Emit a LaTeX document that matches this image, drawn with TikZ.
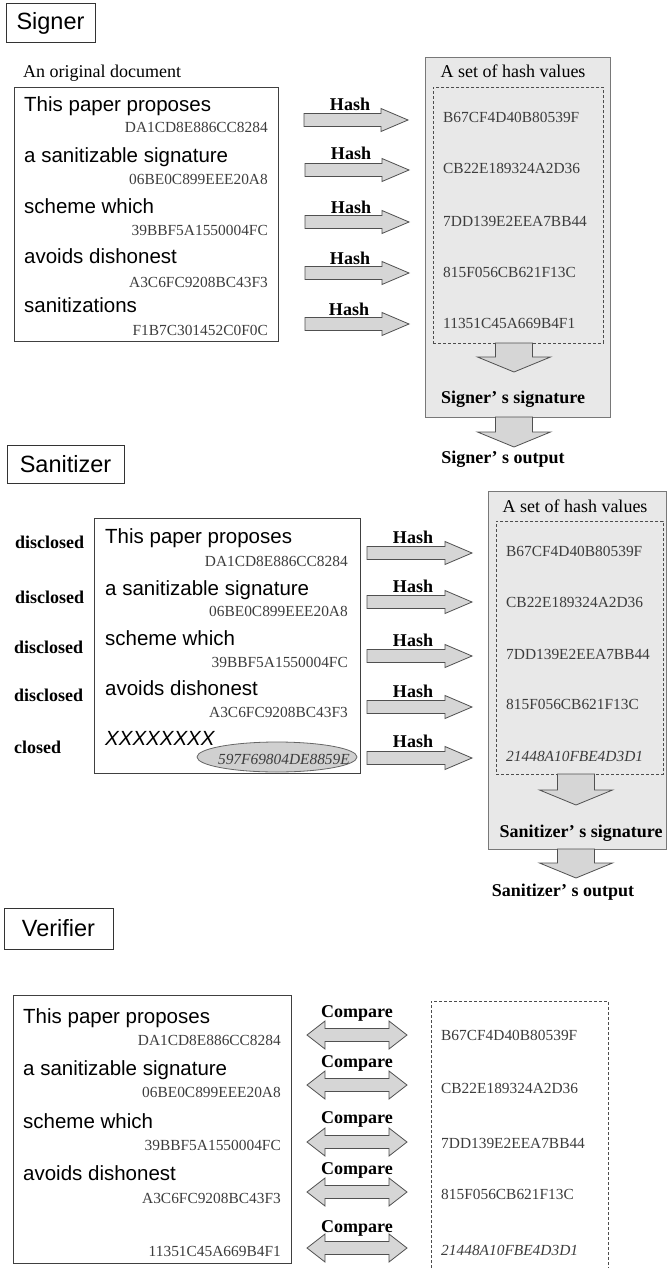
\documentclass[tikz,border=0pt]{standalone}
\usepackage{fontspec}
\setmainfont{Liberation Serif}
\newfontfamily\arialfont{Liberation Sans}
\usepackage{tikz}
\usetikzlibrary{shapes.geometric, arrows.meta, positioning, calc}
\definecolor{boxgray}{RGB}{232,232,232}
\definecolor{boxline}{RGB}{120,120,120}
\definecolor{arrowfill}{RGB}{214,214,214}
\definecolor{arrowline}{RGB}{80,80,80}
\definecolor{hexgray}{RGB}{60,60,60}
\definecolor{ovalfill}{RGB}{208,208,208}
\tikzset{
  rolebox/.style={rectangle, draw=black!80, line width=1pt, inner sep=0pt,
    font=\arialfont\fontsize{23.5}{26}\selectfont},
  docbox/.style={rectangle, draw=black!75, line width=1pt},
  setbox/.style={rectangle, draw=boxline, fill=boxgray, line width=1pt},
  dashbox/.style={rectangle, draw=black!70, dash pattern=on 3pt off 2pt, line width=0.8pt},
  oval/.style={ellipse, draw=black!60, fill=ovalfill, line width=0.8pt},
  linetext/.style={anchor=base west, inner sep=0pt,
    font=\arialfont\fontsize{20.5}{24}\selectfont},
  hextext/.style={anchor=base east, inner sep=0pt, text=hexgray,
    font=\fontsize{15.4}{18}\selectfont},
  hashval/.style={anchor=base west, inner sep=0pt, text=hexgray,
    font=\fontsize{15.4}{18}\selectfont},
  boldlabel/.style={anchor=base, inner sep=0pt, font=\bfseries\fontsize{18}{21}\selectfont},
  plainlabel/.style={anchor=base, inner sep=0pt, font=\fontsize{18}{21}\selectfont},
  blockarrow/.style={draw=arrowline, fill=arrowfill, line width=0.8pt, line join=miter}
}
% block arrows between two named coordinates
\newcommand{\hasharrow}[2]{%
  \draw[blockarrow] let \p1=(#1), \p2=(#2) in
    (\x1,\y1+6.5pt) -- (\x2-27pt,\y1+6.5pt) -- (\x2-27pt,\y1+11.5pt)
    -- (\x2,\y1) -- (\x2-27pt,\y1-11.5pt) -- (\x2-27pt,\y1-6.5pt)
    -- (\x1,\y1-6.5pt) -- cycle;}
\newcommand{\sigarrow}[2]{%
  \draw[blockarrow] let \p1=(#1), \p2=(#2) in
    (\x1-18.5pt,\y1) -- (\x1+18.5pt,\y1) -- (\x1+18.5pt,\y2+15pt)
    -- (\x1+36.5pt,\y2+15pt) -- (\x1,\y2) -- (\x1-36.5pt,\y2+15pt)
    -- (\x1-18.5pt,\y2+15pt) -- cycle;}
\newcommand{\cmparrow}[2]{%
  \draw[blockarrow] let \p1=(#1), \p2=(#2) in
    (\x1,\y1) -- (\x1+18pt,\y1+14pt) -- (\x1+18pt,\y1+6.5pt)
    -- (\x2-18pt,\y1+6.5pt) -- (\x2-18pt,\y1+14pt) -- (\x2,\y1)
    -- (\x2-18pt,\y1-14pt) -- (\x2-18pt,\y1-6.5pt) -- (\x1+18pt,\y1-6.5pt)
    -- (\x1+18pt,\y1-14pt) -- cycle;}

\begin{document}
\begin{tikzpicture}[x=1pt, y=-1pt]
  \useasboundingbox (0,0) rectangle (667,1268);

  % Signer
  \node[rolebox, minimum width=89pt, minimum height=39pt] (signer) at (50.5,23.5) {Signer};
  \node[plainlabel, anchor=base west] (origlabel) at (23,78) {An original document};
  \node[docbox, anchor=north west, minimum width=264pt, minimum height=254pt] (signdoc) at (14,87) {};
  \node[linetext] (st1) at (24,112) {This paper proposes};
  \node[hextext] (sx1) at (268,133) {DA1CD8E886CC8284};
  \node[linetext] (st2) at (24,163) {a sanitizable signature};
  \node[hextext] (sx2) at (268,185) {06BE0C899EEE20A8};
  \node[linetext] (st3) at (24,213) {scheme which};
  \node[hextext] (sx3) at (268,235) {39BBF5A1550004FC};
  \node[linetext] (st4) at (24,263) {avoids dishonest};
  \node[hextext] (sx4) at (268,287) {A3C6FC9208BC43F3};
  \node[linetext] (st5) at (24,312) {sanitizations};
  \node[hextext] (sx5) at (268,335) {F1B7C301452C0F0C};

  \node[setbox, anchor=north west, minimum width=185pt, minimum height=360pt] (signset) at (425,57) {};
  \node[plainlabel] (signtitle) at (513,78) {A set of hash values};
  \node[dashbox, anchor=north west, minimum width=170pt, minimum height=256pt] (signdash) at (433,87) {};
  \node[hashval] (sh1) at (443,123) {B67CF4D40B80539F};
  \node[hashval] (sh2) at (443,174) {CB22E189324A2D36};
  \node[hashval] (sh3) at (443,226) {7DD139E2EEA7BB44};
  \node[hashval] (sh4) at (443,277) {815F056CB621F13C};
  \node[hashval] (sh5) at (443,328) {11351C45A669B4F1};

  \coordinate (sa1s) at (304,120); \coordinate (sa1e) at (408,120);
  \coordinate (sa2s) at (305,170); \coordinate (sa2e) at (409,170);
  \coordinate (sa3s) at (305,222); \coordinate (sa3e) at (409,222);
  \coordinate (sa4s) at (305,273); \coordinate (sa4e) at (409,273);
  \coordinate (sa5s) at (305,324); \coordinate (sa5e) at (409,324);
  \hasharrow{sa1s}{sa1e} \hasharrow{sa2s}{sa2e} \hasharrow{sa3s}{sa3e}
  \hasharrow{sa4s}{sa4e} \hasharrow{sa5s}{sa5e}
  \node[boldlabel] (sl1) at (350,111) {Hash};
  \node[boldlabel] (sl2) at (351,160) {Hash};
  \node[boldlabel] (sl3) at (351,213) {Hash};
  \node[boldlabel] (sl4) at (350,264) {Hash};
  \node[boldlabel] (sl5) at (349,315) {Hash};

  \coordinate (sd1s) at (514,343); \coordinate (sd1e) at (514,372);
  \coordinate (sd2s) at (514,417); \coordinate (sd2e) at (514,447);
  \sigarrow{sd1s}{sd1e} \sigarrow{sd2s}{sd2e}
  \node[boldlabel] (signsig) at (513,403) {Signer’\ s signature};
  \node[boldlabel] (signout) at (503,463) {Signer’\ s output};

  % Sanitizer
  \node[rolebox, minimum width=117pt, minimum height=38pt] (sanitizer) at (65.5,464) {Sanitizer};
  \node[boldlabel, anchor=base west] (zs1) at (15,548) {disclosed};
  \node[boldlabel, anchor=base west] (zs2) at (15,603) {disclosed};
  \node[boldlabel, anchor=base west] (zs3) at (14,653) {disclosed};
  \node[boldlabel, anchor=base west] (zs4) at (14,701) {disclosed};
  \node[boldlabel, anchor=base west] (zs5) at (14,753) {closed};
  \node[docbox, anchor=north west, minimum width=266pt, minimum height=255pt] (sandoc) at (94,518) {};
  \node[linetext] (zt1) at (105,543) {This paper proposes};
  \node[hextext] (zx1) at (348,566) {DA1CD8E886CC8284};
  \node[linetext] (zt2) at (105,595) {a sanitizable signature};
  \node[hextext] (zx2) at (348,616) {06BE0C899EEE20A8};
  \node[linetext] (zt3) at (105,645) {scheme which};
  \node[hextext] (zx3) at (348,667) {39BBF5A1550004FC};
  \node[linetext] (zt4) at (105,695) {avoids dishonest};
  \node[hextext] (zx4) at (348,717) {A3C6FC9208BC43F3};
  \node[linetext, font=\arialfont\itshape\fontsize{20.5}{24}\selectfont] (zt5) at (105,745) {XXXXXXXX};
  \node[oval, minimum width=160pt, minimum height=30pt] (zoval) at (277,757) {};
  \node[hextext, font=\itshape\fontsize{15.4}{18}\selectfont] (zx5) at (350,764) {597F69804DE8859E};

  \node[setbox, anchor=north west, minimum width=178pt, minimum height=358pt] (sanset) at (488,491) {};
  \node[plainlabel] (santitle) at (575,512) {A set of hash values};
  \node[dashbox, anchor=north west, minimum width=167pt, minimum height=253pt] (sandash) at (496,521) {};
  \node[hashval] (zh1) at (506,556) {B67CF4D40B80539F};
  \node[hashval] (zh2) at (506,607) {CB22E189324A2D36};
  \node[hashval] (zh3) at (506,659) {7DD139E2EEA7BB44};
  \node[hashval] (zh4) at (506,709) {815F056CB621F13C};
  \node[hashval, font=\itshape\fontsize{15.4}{18}\selectfont] (zh5) at (506,761) {21448A10FBE4D3D1};

  \coordinate (za1s) at (367,553); \coordinate (za1e) at (472,553);
  \coordinate (za2s) at (367,602); \coordinate (za2e) at (472,602);
  \coordinate (za3s) at (367,656); \coordinate (za3e) at (472,656);
  \coordinate (za4s) at (367,707); \coordinate (za4e) at (472,707);
  \coordinate (za5s) at (367,758); \coordinate (za5e) at (472,758);
  \hasharrow{za1s}{za1e} \hasharrow{za2s}{za2e} \hasharrow{za3s}{za3e}
  \hasharrow{za4s}{za4e} \hasharrow{za5s}{za5e}
  \node[boldlabel] (zl1) at (413,543) {Hash};
  \node[boldlabel] (zl2) at (413,592) {Hash};
  \node[boldlabel] (zl3) at (413,646) {Hash};
  \node[boldlabel] (zl4) at (413,697) {Hash};
  \node[boldlabel] (zl5) at (413,747) {Hash};

  \coordinate (zd1s) at (576,774); \coordinate (zd1e) at (576,805);
  \coordinate (zd2s) at (576,849); \coordinate (zd2e) at (576,878);
  \sigarrow{zd1s}{zd1e} \sigarrow{zd2s}{zd2e}
  \node[boldlabel] (sansig) at (581,837) {Sanitizer’\ s signature};
  \node[boldlabel] (sanout) at (563,896) {Sanitizer’\ s output};

  % Verifier
  \node[rolebox, minimum width=109pt, minimum height=41pt] (verifier) at (58.5,928.5) {Verifier};
  \node[docbox, anchor=north west, minimum width=278pt, minimum height=268pt] (verdoc) at (13,995) {};
  \node[linetext] (vt1) at (23,1023) {This paper proposes};
  \node[hextext] (vx1) at (281,1045) {DA1CD8E886CC8284};
  \node[linetext] (vt2) at (23,1075) {a sanitizable signature};
  \node[hextext] (vx2) at (281,1097) {06BE0C899EEE20A8};
  \node[linetext] (vt3) at (23,1128) {scheme which};
  \node[hextext] (vx3) at (281,1150) {39BBF5A1550004FC};
  \node[linetext] (vt4) at (23,1180) {avoids dishonest};
  \node[hextext] (vx4) at (281,1203) {A3C6FC9208BC43F3};
  \node[hextext] (vx5) at (281,1256) {11351C45A669B4F1};

  \draw[draw=black!70, dash pattern=on 3pt off 2pt, line width=0.8pt]
    (431,1268) -- (431,1001) -- (608,1001) -- (608,1268);
  \node[hashval] (vh1) at (441,1040) {B67CF4D40B80539F};
  \node[hashval] (vh2) at (441,1093) {CB22E189324A2D36};
  \node[hashval] (vh3) at (441,1148) {7DD139E2EEA7BB44};
  \node[hashval] (vh4) at (441,1199) {815F056CB621F13C};
  \node[hashval, font=\itshape\fontsize{15.4}{18}\selectfont] (vh5) at (441,1255) {21448A10FBE4D3D1};

  \coordinate (vc1s) at (307,1035); \coordinate (vc1e) at (407,1035);
  \coordinate (vc2s) at (307,1085); \coordinate (vc2e) at (407,1085);
  \coordinate (vc3s) at (307,1142); \coordinate (vc3e) at (407,1142);
  \coordinate (vc4s) at (307,1192); \coordinate (vc4e) at (407,1192);
  \coordinate (vc5s) at (307,1248); \coordinate (vc5e) at (407,1248);
  \cmparrow{vc1s}{vc1e} \cmparrow{vc2s}{vc2e} \cmparrow{vc3s}{vc3e}
  \cmparrow{vc4s}{vc4e} \cmparrow{vc5s}{vc5e}
  \node[boldlabel] (vl1) at (357,1017) {Compare};
  \node[boldlabel] (vl2) at (357,1067) {Compare};
  \node[boldlabel] (vl3) at (357,1123) {Compare};
  \node[boldlabel] (vl4) at (357,1174) {Compare};
  \node[boldlabel] (vl5) at (357,1232) {Compare};
\end{tikzpicture}
\end{document}
